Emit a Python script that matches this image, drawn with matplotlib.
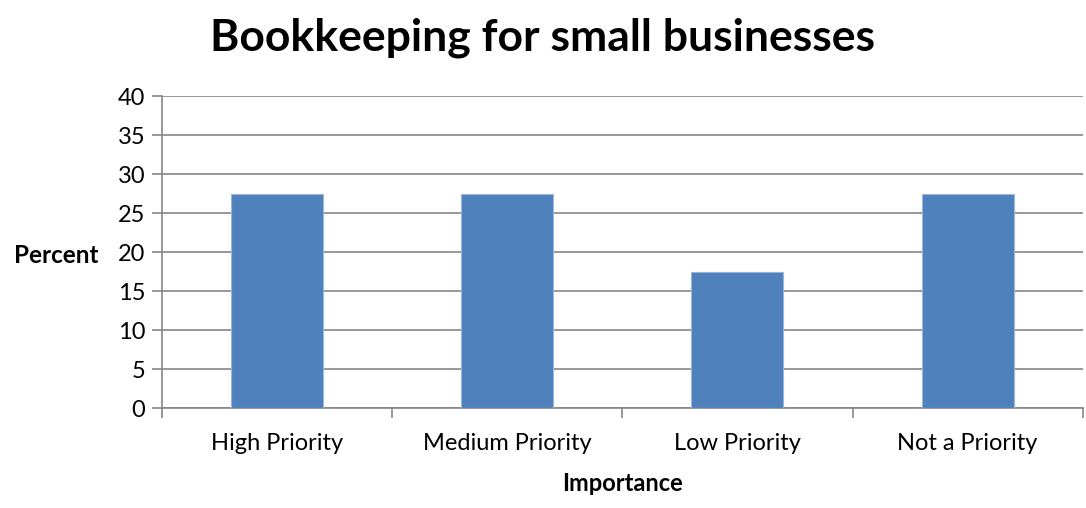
import matplotlib
matplotlib.use('Agg')
from matplotlib import pyplot as plt
import numpy as np

categories = ["High Priority", "Medium Priority", "Low Priority", "Not a Priority"]
percent = [27.5, 27.5, 17.5, 27.5]
y_ticks = [0, 5, 10, 15, 20, 25, 30, 35, 40]

plt.rcParams['font.family'] = ['Lato', 'DejaVu Sans']
grid_gray = '#868686'

fig = plt.figure(figsize=(10.86, 5.08), dpi=100)
ax = fig.add_axes([0.149, 0.196, 0.848, 0.615])

x = np.arange(len(categories))
ax.bar(x, percent, width=0.4, color='#4F81BD', edgecolor='#9DB6D8', linewidth=0.8, zorder=3)

ax.set_xlim(-0.5, len(categories) - 0.5)
ax.set_ylim(0, 40)
ax.set_yticks(y_ticks)
ax.yaxis.grid(True, color=grid_gray, linewidth=1.2, zorder=0)
ax.set_axisbelow(True)

# labels centred on the bars, tick marks on the category boundaries
ax.set_xticks(x)
ax.set_xticklabels(categories, fontsize=17)
ax.set_xticks(np.arange(len(categories) + 1) - 0.5, minor=True)
ax.tick_params(axis='x', which='major', length=0, pad=18)
ax.tick_params(axis='x', which='minor', length=7, width=1.2, color=grid_gray)
ax.tick_params(axis='y', length=7, width=1.2, color=grid_gray, labelsize=17, pad=5)

for side in ('top', 'right'):
    ax.spines[side].set_visible(False)
for side in ('left', 'bottom'):
    ax.spines[side].set_color(grid_gray)
    ax.spines[side].set_linewidth(1.2)

ax.set_ylabel("Percent", fontsize=17.5, fontweight='bold', rotation=0, ha='right', va='center')
ax.yaxis.set_label_coords(-0.069, 0.49)
ax.set_xlabel("Importance", fontsize=17, fontweight='bold', labelpad=13)

fig.text(0.5, 0.925, "Bookkeeping for small businesses", fontsize=32, fontweight='bold',
         ha='center', va='center')

fig.savefig('out.png', dpi=100)
